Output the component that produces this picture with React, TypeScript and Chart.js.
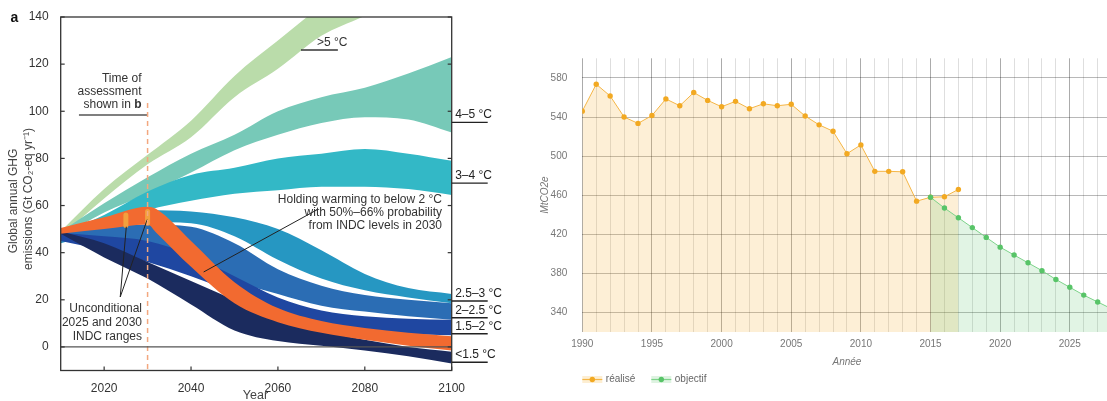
import React, { useEffect, useRef } from 'react';
import { Chart, registerables } from 'chart.js';

Chart.register(...registerables);

const FONT = "'Liberation Sans', Arial, Helvetica, sans-serif";

// ---------------- Panel a : emission pathways ----------------
const LEFT_YEARS = [2010, 2020, 2030, 2040, 2050, 2060, 2070, 2080, 2090, 2100];
const ORANGE_YEARS = [2010, 2020, 2030, 2032, 2040, 2050, 2060, 2070, 2080, 2090, 2100];

const GT5_UPPER = [49, 67, 81.5, 96, 115, 130, 145, 160, 175, 190];
const GT5_LOWER = [47, 63, 77.5, 89, 106, 118, 132, 140.5, 150, 160];
const T45_UPPER = [49, 61, 72, 82, 90, 100, 106, 110, 116, 123];
const T45_LOWER = [46.5, 57, 65, 74, 83.5, 90, 95, 97.5, 96.5, 91];
const T34_UPPER = [48, 56, 66, 73, 76, 80, 82, 84, 82, 79];
const T34_LOWER = [44.5, 51, 58, 62, 65, 66.5, 68, 68, 67, 64.5];
const T253_UPPER = [47, 54, 58, 57.5, 55, 50, 41, 31, 25, 22.5];
const T253_LOWER = [44, 49, 53, 52.5, 47, 37, 29, 24, 21, 18.5];
const T225_UPPER = [49, 51, 52, 51, 44, 33, 26, 22, 20, 18.5];
const T225_LOWER = [45, 46, 44, 37, 28, 22.5, 17.5, 15, 13, 11.5];
const T152_UPPER = [48.5, 47, 45, 39, 30, 21, 15.5, 13, 12, 11.5];
const T152_LOWER = [45, 41, 36, 30, 23, 15, 10, 7, 5.5, 5];
const T15_UPPER = [49, 44, 36, 28, 20, 13, 7, 3, 0, -2];
const T15_LOWER = [48, 38, 29, 18, 7, 2.5, 0.5, -1.5, -4, -7];
const ORANGE_UPPER = [50.5, 55, 59.5, 58.5, 45, 27.5, 16.5, 11, 8, 6, 4.5];
const ORANGE_LOWER = [48, 50, 52, 48.5, 34, 18.5, 10.5, 6, 3, 0.5, -1.5];

const INDC_YEARS = [2025, 2030];
const INDC_LOW = [51.5, 52.5];
const INDC_HIGH = [56, 57.5];

const A_X_TICKS = [2020, 2040, 2060, 2080, 2100];
const A_Y_TICKS = [0, 20, 40, 60, 80, 100, 120, 140];
const RIGHT_LABELS = ['4–5 °C', '3–4 °C', '2.5–3 °C', '2–2.5 °C', '1.5–2 °C', '<1.5 °C'];
const RIGHT_LABEL_VALUES = [95.3, 69.5, 19.5, 12.4, 5.6, -6.5];

// annotation geometry (data coordinates)
const ASSESS_LINE = [{ x: 2014.2, y: 98.4 }, { x: 2030, y: 98.4 }];
const ASSESS_DASH = [{ x: 2030, y: 103.5 }, { x: 2030, y: -10 }];
const GT5_MARK = [{ x: 2065.3, y: 126 }, { x: 2073.8, y: 126 }];
const HOLD_LEADER = [{ x: 2042.9, y: 31.8 }, { x: 2069.1, y: 58.3 }];
const UNCOND_LEADER = [{ x: 2025.1, y: 51 }, { x: 2023.7, y: 21.2 }, { x: 2029.9, y: 54 }];
const ZERO_LINE = [{ x: 2010, y: 0 }, { x: 2100, y: 0 }];

// ---------------- Right panel : MtCO2e ----------------
const REALISE_YEARS = [1990, 1991, 1992, 1993, 1994, 1995, 1996, 1997, 1998, 1999, 2000, 2001, 2002, 2003, 2004, 2005, 2006, 2007, 2008, 2009, 2010, 2011, 2012, 2013, 2014, 2015, 2016, 2017];
const REALISE = [546, 573.5, 561.5, 540, 533.5, 541.5, 558.5, 551.5, 565, 557, 550.5, 556, 548.5, 553.5, 551.5, 553, 541, 532, 525.5, 502.5, 511.5, 484.5, 484.5, 484, 454, 458, 458.5, 466];
const OBJECTIF_YEARS = [2015, 2016, 2017, 2018, 2019, 2020, 2021, 2022, 2023, 2024, 2025, 2026, 2027, 2028];
const OBJECTIF = [458, 447, 437, 427, 417, 407, 399, 391, 383, 374, 366, 358, 351, 344];
const B_Y_TICKS = [340, 380, 420, 460, 500, 540, 580];
const B_LEGEND = ['réalisé', 'objectif'];

function pts(xs: number[], ys: number[]) {
  return xs.map((x, i) => ({ x, y: ys[i] }));
}

const leftDecor = {
  id: 'leftDecor',
  afterDatasetsDraw(chart: any) {
    const { ctx, chartArea: a, scales } = chart;
    const x = scales.x;
    const y = scales.y;
    const line = (x1: number, y1: number, x2: number, y2: number) => {
      ctx.beginPath();
      ctx.moveTo(x1, y1);
      ctx.lineTo(x2, y2);
      ctx.stroke();
    };
    ctx.save();
    ctx.strokeStyle = '#333';
    ctx.lineWidth = 1.3;
    ctx.strokeRect(a.left, a.top, a.right - a.left, a.bottom - a.top);
    ctx.lineWidth = 1.2;
    A_Y_TICKS.forEach((v) => {
      const py = y.getPixelForValue(v);
      line(a.left, py, a.left + 4, py);
      line(a.right - 4, py, a.right, py);
    });
    A_X_TICKS.forEach((v) => {
      const px = x.getPixelForValue(v);
      line(px, a.bottom, px, a.bottom - 4);
    });

    // right-hand labels
    ctx.fillStyle = '#222';
    ctx.font = `12px ${FONT}`;
    ctx.textAlign = 'left';
    ctx.textBaseline = 'alphabetic';
    ctx.lineWidth = 1.4;
    ctx.strokeStyle = '#222';
    RIGHT_LABELS.forEach((t, i) => {
      const py = y.getPixelForValue(RIGHT_LABEL_VALUES[i]);
      line(a.right, py, a.right + 36, py);
      ctx.fillText(t, a.right + 3.5, py - 4);
    });

    ctx.fillStyle = '#333';
    ctx.textBaseline = 'middle';
    // >5 label
    ctx.fillText('>5 °C', 317, 43);

    // Time of assessment
    ctx.textAlign = 'right';
    ctx.fillText('Time of', 141.5, 79);
    ctx.fillText('assessment', 141.5, 92);
    ctx.font = `bold 12px ${FONT}`;
    const bw = ctx.measureText('b').width;
    ctx.fillText('b', 141.5, 105);
    ctx.font = `12px ${FONT}`;
    ctx.fillText('shown in ', 141.5 - bw, 105);

    // Holding warming
    ctx.fillText('Holding warming to below 2 °C', 442, 200);
    ctx.fillText('with 50%–66% probability', 442, 212.7);
    ctx.fillText('from INDC levels in 2030', 442, 225.4);

    // Unconditional
    ctx.fillText('Unconditional', 142, 309);
    ctx.fillText('2025 and 2030', 142, 323);
    ctx.fillText('INDC ranges', 142, 337);

    // panel letter
    ctx.textAlign = 'left';
    ctx.font = `bold 14px ${FONT}`;
    ctx.fillStyle = '#111';
    ctx.fillText('a', 10.5, 18);

    // axis titles
    ctx.font = `12.5px ${FONT}`;
    ctx.fillStyle = '#444';
    ctx.textAlign = 'center';
    ctx.fillText('Year', 255.5, 395.5);
    ctx.font = `12px ${FONT}`;
    ctx.save();
    ctx.translate(13.5, 201);
    ctx.rotate(-Math.PI / 2);
    ctx.fillText('Global annual GHG', 0, 0);
    ctx.restore();
    ctx.save();
    ctx.translate(29, 199);
    ctx.rotate(-Math.PI / 2);
    ctx.fillText('emissions (Gt CO₂-eq yr⁻¹)', 0, 0);
    ctx.restore();

    ctx.restore();
  },
};

function LeftChart() {
  const ref = useRef<HTMLCanvasElement>(null);
  useEffect(() => {
    if (!ref.current) return;
    const band = (years: number[], up: number[], lo: number[], color: string, order: number) => [
      {
        data: pts(years, up),
        borderWidth: 0,
        borderColor: 'transparent',
        backgroundColor: color,
        fill: '+1',
        order,
        pointRadius: 0,
        cubicInterpolationMode: 'monotone',
      },
      {
        data: pts(years, lo),
        borderWidth: 0,
        borderColor: 'transparent',
        backgroundColor: 'transparent',
        fill: false,
        order,
        pointRadius: 0,
        cubicInterpolationMode: 'monotone',
      },
    ];
    const seg = (data: any[], color: string, width: number, dash: number[] = [], order = 0) => ({
      data,
      borderColor: color,
      borderWidth: width,
      borderDash: dash,
      fill: false,
      pointRadius: 0,
      tension: 0,
      order,
    });
    const datasets: any[] = [
      seg(ZERO_LINE, '#555', 1.2, [], 0),
      seg(ASSESS_DASH, '#f3a77f', 1.5, [5, 4], 0),
      seg(ASSESS_LINE, '#555', 1.5, [], 0),
      seg(GT5_MARK, '#333', 1.3, [], 0),
      seg(HOLD_LEADER, '#222', 1, [], 0),
      seg(UNCOND_LEADER, '#222', 1, [], 0),
      ...INDC_YEARS.map((yr, i) => ({
        data: [{ x: yr, y: INDC_LOW[i] }, { x: yr, y: INDC_HIGH[i] }],
        borderColor: '#f2a03e',
        borderWidth: 5,
        borderCapStyle: 'round',
        fill: false,
        pointRadius: 0,
        order: 1,
      })),
      ...band(ORANGE_YEARS, ORANGE_UPPER, ORANGE_LOWER, '#f26a30', 2),
      ...band(LEFT_YEARS, T15_UPPER, T15_LOWER, '#1b2b5e', 3),
      ...band(LEFT_YEARS, T152_UPPER, T152_LOWER, '#1f47a1', 4),
      ...band(LEFT_YEARS, T225_UPPER, T225_LOWER, '#2b6db4', 5),
      ...band(LEFT_YEARS, T253_UPPER, T253_LOWER, '#2697c2', 6),
      ...band(LEFT_YEARS, T34_UPPER, T34_LOWER, '#33b8c6', 7),
      ...band(LEFT_YEARS, T45_UPPER, T45_LOWER, '#77c9b8', 8),
      ...band(LEFT_YEARS, GT5_UPPER, GT5_LOWER, '#badcaa', 9),
    ];
    const tickFont = { family: FONT, size: 12 };
    const chart = new Chart(ref.current, {
      type: 'line',
      data: { datasets },
      options: {
        responsive: false,
        animation: false,
        events: [],
        layout: { padding: { left: 0, top: 17, right: 63.3, bottom: 0 } },
        plugins: { legend: { display: false }, tooltip: { enabled: false } },
        scales: {
          x: {
            type: 'linear',
            min: 2010,
            max: 2100,
            afterBuildTicks: (s: any) => {
              s.ticks = A_X_TICKS.map((v) => ({ value: v }));
            },
            afterFit: (s: any) => {
              s.height = 30.5;
            },
            grid: { display: false },
            border: { display: false },
            ticks: { callback: (v: any) => String(v), font: tickFont, color: '#333', padding: 3, maxRotation: 0, autoSkip: false },
          },
          y: {
            type: 'linear',
            min: -10,
            max: 140,
            afterBuildTicks: (s: any) => {
              s.ticks = A_Y_TICKS.map((v) => ({ value: v }));
            },
            afterFit: (s: any) => {
              s.width = 60.7;
            },
            grid: { display: false },
            border: { display: false },
            ticks: { callback: (v: any) => String(v), font: tickFont, color: '#333', padding: 4, autoSkip: false },
          },
        },
      } as any,
      plugins: [leftDecor as any],
    });
    return () => chart.destroy();
  }, []);
  return <canvas ref={ref} width={515} height={401} style={{ position: 'absolute', left: 0, top: 0, width: 515, height: 401 }} />;
}

const rightDecor = {
  id: 'rightDecor',
  afterDraw(chart: any) {
    const { ctx, chartArea: a } = chart;
    ctx.save();
    ctx.fillStyle = '#777';
    ctx.font = `italic 10px ${FONT}`;
    ctx.textAlign = 'center';
    ctx.textBaseline = 'middle';
    ctx.fillText('Année', (a.left + a.right) / 2, 362);
    ctx.save();
    ctx.translate(15, 195);
    ctx.rotate(-Math.PI / 2);
    ctx.fillText('MtCO2e', 0, 0);
    ctx.restore();

    // legend
    const items = [
      { x: a.left, fill: 'rgba(245,176,50,0.22)', line: '#f5b646', dot: '#f2a922' },
      { x: a.left + 69, fill: 'rgba(90,195,105,0.2)', line: '#7dd38a', dot: '#58c468' },
    ];
    ctx.font = `10px ${FONT}`;
    ctx.textAlign = 'left';
    items.forEach((it, i) => {
      const cy = 379.5;
      ctx.fillStyle = it.fill;
      ctx.fillRect(it.x, cy - 3.5, 20, 7);
      ctx.strokeStyle = it.line;
      ctx.lineWidth = 1.2;
      ctx.beginPath();
      ctx.moveTo(it.x, cy);
      ctx.lineTo(it.x + 20, cy);
      ctx.stroke();
      ctx.fillStyle = it.dot;
      ctx.beginPath();
      ctx.arc(it.x + 10, cy, 2.7, 0, Math.PI * 2);
      ctx.fill();
      ctx.fillStyle = '#666';
      ctx.fillText(B_LEGEND[i], it.x + 23.5, cy);
    });
    ctx.restore();
  },
};

function RightChart() {
  const ref = useRef<HTMLCanvasElement>(null);
  useEffect(() => {
    if (!ref.current) return;
    const gridYears: number[] = [];
    for (let yr = 1990; yr <= 2028; yr++) gridYears.push(yr);
    const tickFont = { family: FONT, size: 10 };
    const chart = new Chart(ref.current, {
      type: 'line',
      data: {
        datasets: [
          {
            label: B_LEGEND[1],
            data: pts(OBJECTIF_YEARS, OBJECTIF),
            borderColor: '#7dd38a',
            backgroundColor: 'rgba(90,195,105,0.18)',
            pointBackgroundColor: '#58c468',
            pointBorderColor: '#58c468',
            pointRadius: 2.7,
            pointBorderWidth: 0,
            borderWidth: 1,
            fill: 'start',
            tension: 0,
            order: 0,
          },
          {
            label: B_LEGEND[0],
            data: pts(REALISE_YEARS, REALISE),
            borderColor: '#f5b646',
            backgroundColor: 'rgba(245,176,50,0.2)',
            pointBackgroundColor: '#f2a922',
            pointBorderColor: '#f2a922',
            pointRadius: 2.7,
            pointBorderWidth: 0,
            borderWidth: 1,
            fill: 'start',
            tension: 0,
            order: 1,
          },
        ],
      },
      options: {
        responsive: false,
        animation: false,
        events: [],
        layout: { padding: { left: 0, top: 58.3, right: 18.4, bottom: 0 } },
        plugins: { legend: { display: false }, tooltip: { enabled: false } },
        scales: {
          x: {
            type: 'linear',
            min: 1990,
            max: 2028,
            afterBuildTicks: (s: any) => {
              s.ticks = gridYears.map((v) => ({ value: v }));
            },
            afterFit: (s: any) => {
              s.height = 68.7;
            },
            grid: {
              color: (c: any) => (c.tick && c.tick.value % 5 === 0 ? 'rgba(0,0,0,0.33)' : 'rgba(0,0,0,0.13)'),
              drawTicks: false,
            },
            border: { display: false },
            ticks: {
              callback: (v: any) => (Number(v) % 5 === 0 ? String(v) : ''),
              autoSkip: false,
              maxRotation: 0,
              padding: 6,
              font: tickFont,
              color: '#777',
            },
          },
          y: {
            type: 'linear',
            min: 320,
            max: 600,
            afterBuildTicks: (s: any) => {
              s.ticks = B_Y_TICKS.map((v) => ({ value: v }));
            },
            afterFit: (s: any) => {
              s.width = 52.3;
            },
            grid: { color: 'rgba(0,0,0,0.28)', drawTicks: false },
            border: { display: false },
            ticks: { callback: (v: any) => String(v), padding: 15, font: tickFont, color: '#777', autoSkip: false },
          },
        },
      } as any,
      plugins: [rightDecor as any],
    });
    return () => chart.destroy();
  }, []);
  return <canvas ref={ref} width={600} height={401} style={{ position: 'absolute', left: 530, top: 0, width: 600, height: 401 }} />;
}

export default function App() {
  return (
    <div style={{ position: 'fixed', left: 0, top: 0, width: 1107, height: 401, overflow: 'hidden', background: '#fff' }}>
      <LeftChart />
      <RightChart />
    </div>
  );
}
